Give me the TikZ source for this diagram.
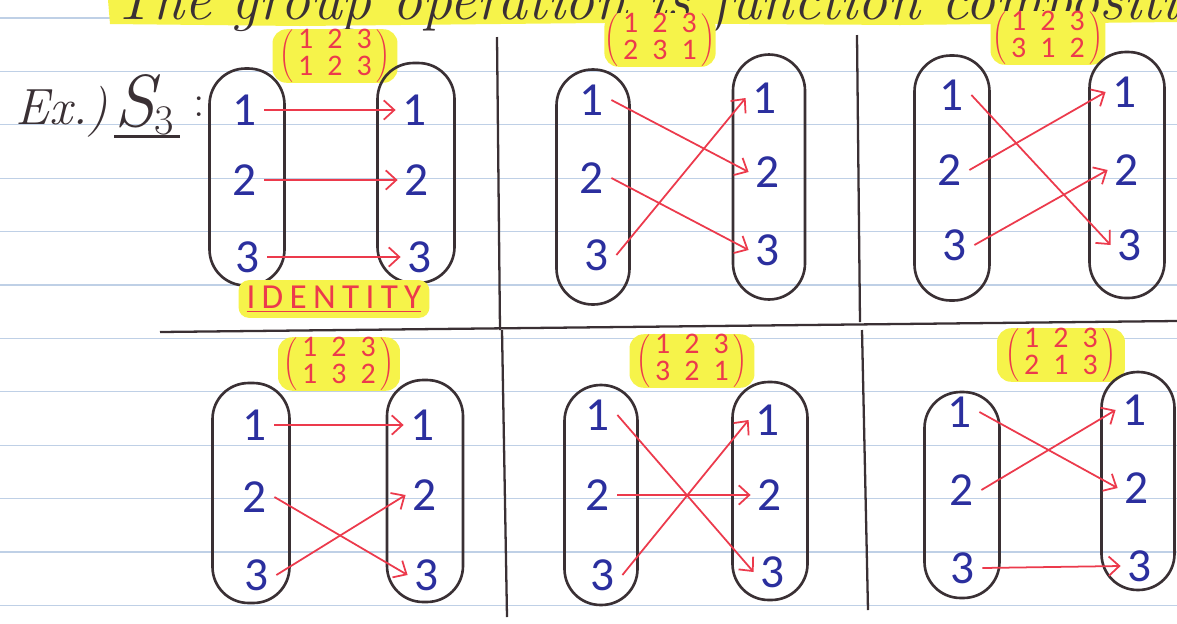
\documentclass[tikz,border=0pt]{standalone}
\usepackage{fontspec}
\usetikzlibrary{arrows.meta}
\newfontfamily\numfont{Carlito}
\definecolor{ink}{HTML}{3A3034}
\definecolor{blu}{HTML}{2B2F9E}
\definecolor{rd}{HTML}{EC3A4C}
\definecolor{hl}{HTML}{F6F34A}
\definecolor{rulec}{HTML}{BFD0E6}
\tikzset{
  pill/.style={draw=ink, line width=1.5pt, rounded corners=0.72cm},
  num/.style={text=blu, font=\numfont\fontsize{27}{27}\selectfont, inner xsep=4pt, inner ysep=1pt},
  map/.style={draw=rd, line width=1pt, -{Straight Barb[length=6pt,width=11pt]}},
  perm/.style={fill=hl, rounded corners=8pt, text=rd, font=\numfont\fontsize{17}{14}\selectfont, inner sep=0pt},
  divider/.style={draw=ink, line width=1.3pt},
  ruled/.style={draw=rulec, line width=0.6pt},
}
\newcommand{\pmat}[6]{$\left(\begin{tabular}{@{\,}c@{\hspace{8pt}}c@{\hspace{8pt}}c@{\,}}#1&#2&#3\\#4&#5&#6\end{tabular}\right)$}
\begin{document}
\begin{tikzpicture}[x=0.02cm,y=-0.02cm]
\useasboundingbox (0,0) rectangle (1177,623);
\clip (0,0) rectangle (1177,623);
\fill[white] (0,0) rectangle (1177,623);
% ruled paper
\foreach \k in {0,...,11}{
  \draw[ruled] (0,{18+53.4*\k}) -- (1177,{18+53.4*\k});
}
% title (cut off at top)
\fill[hl] (108,0) -- (1177,0) -- (1177,22) -- (900,25) -- (600,23) -- (300,26) -- (110,24) -- cycle;
\node[anchor=base west, text=ink, font=\fontsize{34}{34}\selectfont\itshape, inner sep=0pt] (title) at (112,19) {The group operation is function composition};
% dividers
\draw[divider] (497,37) -- (500,330);
\draw[divider] (502,330) -- (507,617);
\draw[divider] (857,35) -- (860,322);
\draw[divider] (862,330) -- (868,610);
\draw[divider] (160,332) -- (1177,321);
% Ex.) S3:
\node[anchor=base west, text=ink, font=\fontsize{29}{29}\selectfont\itshape, inner sep=0pt] (ex) at (15,124) {Ex.)};
\node[anchor=base west, text=ink, font=\fontsize{42}{42}\selectfont, inner sep=0pt] (s3) at (114,126) {\itshape S\raisebox{-5pt}{\fontsize{24}{24}\selectfont\upshape 3}};
\draw[draw=ink, line width=1.2pt] ([yshift=-6pt]s3.base west) -- ([yshift=-6pt,xshift=3pt]s3.base east);
\node[anchor=base west, text=ink, font=\fontsize{26}{26}\selectfont, inner sep=0pt] (colon) at (193,116) {:};

% ===== Panel 1: identity =====
\node[perm, minimum width=2.5cm, minimum height=1.02cm] (m1) at (335,56) {\pmat{1}{2}{3}{1}{2}{3}};
\node[pill, minimum width=1.5cm, minimum height=4.34cm] (p1A) at (247,177) {};
\node[pill, minimum width=1.54cm, minimum height=4.4cm] (p1B) at (416,173) {};
\node[num] (p1L1) at (245,110) {1};
\node[num] (p1L2) at (245,180) {2};
\node[num] (p1L3) at (248,257) {3};
\node[num] (p1R1) at (415,110) {1};
\node[num] (p1R2) at (417,180) {2};
\node[num] (p1R3) at (420,257) {3};
\draw[map] (p1L1.east) -- (p1R1.west);
\draw[map] (p1L2.east) -- (p1R2.west);
\draw[map] (p1L3.east) -- (p1R3.west);
\node[fill=hl, rounded corners=6pt, text=rd, minimum width=3.82cm, minimum height=0.74cm, font=\numfont\fontsize{20}{20}\selectfont\addfontfeatures{LetterSpace=18}] (ident) at (334,299) {\underline{IDENTITY}};

% ===== Panel 2: (1 2 3 / 2 3 1) =====
\node[perm, minimum width=1.95cm, minimum height=1.02cm] (m2) at (660,40) {\pmat{1}{2}{3}{2}{3}{1}};
\node[pill, minimum width=1.46cm, minimum height=4.7cm] (p2A) at (593,187) {};
\node[pill, minimum width=1.44cm, minimum height=4.9cm] (p2B) at (769,177) {};
\node[num] (p2L1) at (592,100) {1};
\node[num] (p2L2) at (592,178) {2};
\node[num] (p2L3) at (597,255) {3};
\node[num] (p2R1) at (765,98) {1};
\node[num] (p2R2) at (768,172) {2};
\node[num] (p2R3) at (768,250) {3};
\draw[map] (p2L1.east) -- (p2R2.west);
\draw[map] (p2L2.east) -- (p2R3.west);
\draw[map] (p2L3.east) -- (p2R1.west);

% ===== Panel 3: (1 2 3 / 3 1 2) =====
\node[perm, minimum width=2.3cm, minimum height=0.98cm] (m3) at (1048,38) {\pmat{1}{2}{3}{3}{1}{2}};
\node[pill, minimum width=1.5cm, minimum height=4.9cm] (p3A) at (952,178) {};
\node[pill, minimum width=1.5cm, minimum height=4.92cm] (p3B) at (1127,175) {};
\node[num] (p3L1) at (952,95) {1};
\node[num] (p3L2) at (950,170) {2};
\node[num] (p3L3) at (955,245) {3};
\node[num] (p3R1) at (1125,92) {1};
\node[num] (p3R2) at (1127,170) {2};
\node[num] (p3R3) at (1130,245) {3};
\draw[map] (p3L1.east) -- (p3R3.west);
\draw[map] (p3L2.east) -- (p3R1.west);
\draw[map] (p3L3.east) -- (p3R2.west);

% ===== Panel 4: (1 2 3 / 1 3 2) =====
\node[perm, minimum width=2.44cm, minimum height=1cm] (m4) at (339,364) {\pmat{1}{2}{3}{1}{3}{2}};
\node[pill, minimum width=1.54cm, minimum height=4.4cm] (p4A) at (251,493) {};
\node[pill, minimum width=1.52cm, minimum height=4.44cm] (p4B) at (425,491) {};
\node[num] (p4L1) at (255,425) {1};
\node[num] (p4L2) at (255,497) {2};
\node[num] (p4L3) at (257,575) {3};
\node[num] (p4R1) at (423,425) {1};
\node[num] (p4R2) at (425,495) {2};
\node[num] (p4R3) at (427,575) {3};
\draw[map] (p4L1.east) -- (p4R1.west);
\draw[map] (p4L2.east) -- (p4R3.west);
\draw[map] (p4L3.east) -- (p4R2.west);

% ===== Panel 5: (1 2 3 / 3 2 1) =====
\node[perm, minimum width=2.5cm, minimum height=1.02cm] (m5) at (692,361) {\pmat{1}{2}{3}{3}{2}{1}};
\node[pill, minimum width=1.46cm, minimum height=4.4cm] (p5A) at (601,495) {};
\node[pill, minimum width=1.5cm, minimum height=4.36cm] (p5B) at (770,491) {};
\node[num] (p5L1) at (598,415) {1};
\node[num] (p5L2) at (598,495) {2};
\node[num] (p5L3) at (603,575) {3};
\node[num] (p5R1) at (768,420) {1};
\node[num] (p5R2) at (770,495) {2};
\node[num] (p5R3) at (773,572) {3};
\draw[map] (p5L1.east) -- (p5R3.west);
\draw[map] (p5L2.east) -- (p5R2.west);
\draw[map] (p5L3.east) -- (p5R1.west);

% ===== Panel 6: (1 2 3 / 2 1 3) =====
\node[perm, minimum width=2.56cm, minimum height=1cm] (m6) at (1061,355) {\pmat{1}{2}{3}{2}{1}{3}};
\node[pill, minimum width=1.5cm, minimum height=4.12cm] (p6A) at (962,495) {};
\node[pill, minimum width=1.46cm, minimum height=4.36cm] (p6B) at (1138,481) {};
\node[num] (p6L1) at (960,412) {1};
\node[num] (p6L2) at (962,490) {2};
\node[num] (p6L3) at (963,568) {3};
\node[num] (p6R1) at (1135,410) {1};
\node[num] (p6R2) at (1137,488) {2};
\node[num] (p6R3) at (1140,566) {3};
\draw[map] (p6L1.east) -- (p6R2.west);
\draw[map] (p6L2.east) -- (p6R1.west);
\draw[map] (p6L3.east) -- (p6R3.west);
\end{tikzpicture}
\end{document}
